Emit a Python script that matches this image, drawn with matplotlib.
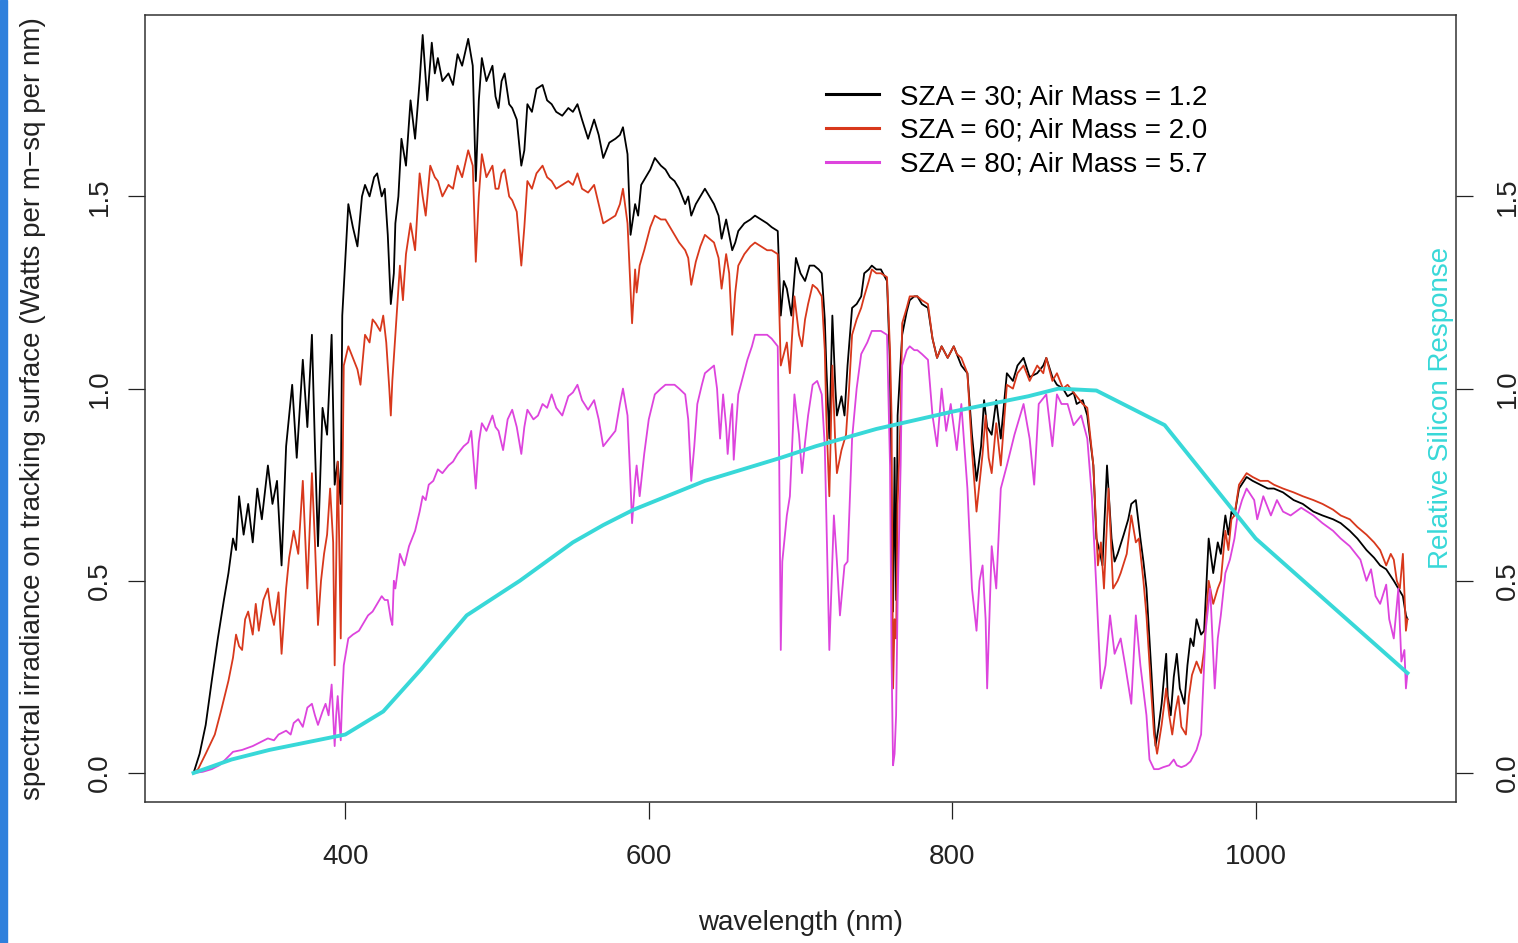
import numpy as np
import matplotlib
matplotlib.use("Agg")
import matplotlib.pyplot as plt
from matplotlib.patches import Rectangle
from matplotlib.ticker import FormatStrFormatter

plt.rcParams['font.family'] = ['Liberation Sans', 'DejaVu Sans']

# --- spectra (nm, W per m^2 per nm) ---
wl_sza30 = [300, 304, 308, 312, 316, 320, 323, 326, 328, 330, 333, 336, 339, 342, 345, 349, 352, 355, 358,
            361, 365, 368, 372, 375, 378, 380, 382, 385, 388, 391, 393, 395, 397, 398, 402, 405, 408, 411,
            413, 416, 419, 421, 424, 426, 428, 430, 432, 433, 435, 437, 440, 443, 446, 449, 451, 454, 457,
            459, 461, 464, 468, 471, 474, 477, 481, 484, 486, 488, 490, 493, 497, 499, 501, 503, 505, 508,
            510, 513, 516, 518, 520, 523, 526, 530, 533, 536, 539, 543, 547, 550, 553, 556, 560, 564, 567,
            570, 574, 578, 581, 583, 586, 588, 591, 593, 595, 598, 601, 604, 608, 611, 614, 617, 620, 624,
            626, 628, 631, 634, 637, 640, 643, 646, 648, 651, 653, 655, 657, 659, 663, 667, 670, 674, 678,
            681, 685, 687, 689, 691, 694, 697, 700, 703, 706, 709, 712, 714, 716, 717, 719, 721, 723, 724,
            727, 729, 731, 734, 737, 740, 742, 745, 747, 750, 753, 757, 759, 760, 761, 762, 763, 764, 767,
            770, 772, 775, 777, 780, 784, 787, 790, 793, 797, 801, 803, 806, 810, 813, 816, 819, 821, 823,
            826, 829, 832, 836, 840, 843, 847, 851, 856, 860, 862, 866, 869, 873, 876, 880, 882, 886, 889,
            893, 895, 897, 899, 902, 905, 907, 909, 913, 916, 918, 921, 924, 926, 928, 931, 934, 936, 938,
            941, 942, 944, 946, 948, 950, 953, 955, 957, 959, 961, 964, 966, 969, 972, 975, 977, 980, 982,
            984, 986, 989, 994, 998, 1003, 1008, 1012, 1018, 1025, 1031, 1038, 1044, 1051, 1056, 1062,
            1067, 1073, 1078, 1082, 1086, 1091, 1094, 1097, 1099, 1100]
irr_sza30 = [0.0, 0.05, 0.125, 0.24, 0.35, 0.45, 0.52, 0.61, 0.58, 0.72, 0.62, 0.70, 0.60, 0.74, 0.66, 0.80,
             0.70, 0.76, 0.54, 0.85, 1.01, 0.82, 1.075, 0.90, 1.14, 0.85, 0.59, 0.95, 0.88, 1.14, 0.75, 0.81,
             0.70, 1.19, 1.48, 1.42, 1.37, 1.50, 1.53, 1.50, 1.55, 1.56, 1.50, 1.52, 1.40, 1.22, 1.30, 1.43,
             1.50, 1.65, 1.58, 1.75, 1.65, 1.80, 1.92, 1.75, 1.90, 1.82, 1.86, 1.80, 1.82, 1.79, 1.87, 1.84,
             1.91, 1.84, 1.54, 1.75, 1.86, 1.80, 1.84, 1.76, 1.73, 1.80, 1.82, 1.74, 1.73, 1.70, 1.58, 1.62,
             1.74, 1.72, 1.78, 1.79, 1.75, 1.74, 1.72, 1.71, 1.73, 1.72, 1.74, 1.70, 1.65, 1.70, 1.66, 1.60,
             1.64, 1.65, 1.66, 1.68, 1.61, 1.40, 1.48, 1.45, 1.53, 1.55, 1.57, 1.60, 1.58, 1.57, 1.55, 1.54,
             1.52, 1.48, 1.50, 1.45, 1.48, 1.50, 1.52, 1.50, 1.48, 1.45, 1.39, 1.44, 1.40, 1.36, 1.38, 1.41,
             1.43, 1.44, 1.45, 1.44, 1.43, 1.42, 1.41, 1.19, 1.28, 1.26, 1.19, 1.34, 1.30, 1.28, 1.32, 1.32,
             1.31, 1.30, 1.18, 1.06, 0.87, 1.19, 1.00, 0.93, 0.98, 0.93, 1.06, 1.21, 1.22, 1.24, 1.30, 1.31,
             1.32, 1.31, 1.31, 1.28, 1.06, 0.60, 0.42, 0.82, 0.45, 0.93, 1.14, 1.20, 1.23, 1.24, 1.24, 1.22,
             1.21, 1.13, 1.08, 1.11, 1.08, 1.11, 1.09, 1.06, 1.04, 0.88, 0.76, 0.85, 0.97, 0.90, 0.88, 0.97,
             0.87, 1.04, 1.02, 1.06, 1.08, 1.03, 1.04, 1.06, 1.08, 1.03, 1.01, 1.00, 0.98, 0.99, 0.96, 0.97,
             0.93, 0.80, 0.61, 0.58, 0.54, 0.80, 0.61, 0.55, 0.57, 0.62, 0.66, 0.70, 0.71, 0.61, 0.55, 0.48,
             0.28, 0.07, 0.12, 0.18, 0.31, 0.20, 0.15, 0.25, 0.31, 0.22, 0.18, 0.28, 0.35, 0.33, 0.40, 0.36,
             0.37, 0.61, 0.52, 0.60, 0.57, 0.67, 0.62, 0.68, 0.67, 0.74, 0.77, 0.76, 0.75, 0.74, 0.74, 0.73,
             0.71, 0.70, 0.68, 0.67, 0.66, 0.65, 0.63, 0.61, 0.58, 0.56, 0.54, 0.53, 0.50, 0.48, 0.46, 0.41,
             0.40]

wl_sza60 = [300, 303, 308, 314, 318, 323, 326, 328, 330, 332, 334, 336, 339, 341, 343, 346, 349, 351, 353,
            356, 358, 361, 363, 366, 369, 372, 375, 378, 380, 382, 384, 386, 388, 390, 392, 393, 394, 395,
            396, 397, 399, 402, 405, 408, 410, 413, 416, 418, 420, 423, 425, 427, 429, 430, 431, 433, 436,
            438, 440, 443, 446, 449, 451, 453, 456, 459, 461, 464, 468, 471, 474, 477, 481, 484, 486, 488,
            490, 493, 497, 499, 501, 503, 505, 508, 510, 513, 516, 518, 520, 523, 526, 530, 533, 536, 539,
            543, 547, 550, 553, 556, 560, 564, 567, 570, 574, 578, 581, 583, 586, 589, 591, 592, 594, 597,
            601, 604, 608, 611, 614, 617, 620, 624, 626, 628, 631, 634, 637, 640, 643, 646, 648, 651, 653,
            655, 657, 659, 663, 667, 670, 674, 678, 681, 685, 687, 689, 691, 693, 696, 699, 701, 703, 705,
            708, 711, 714, 716, 717, 719, 721, 723, 724, 727, 730, 732, 734, 737, 740, 742, 745, 747, 750,
            753, 757, 759, 760, 761, 762, 763, 764, 766, 767, 770, 772, 775, 777, 780, 784, 787, 790, 793,
            797, 801, 803, 806, 810, 813, 816, 820, 822, 824, 826, 829, 832, 836, 840, 843, 847, 851, 856,
            860, 862, 866, 869, 873, 876, 880, 882, 886, 889, 893, 896, 898, 900, 903, 906, 909, 911, 915,
            918, 921, 923, 926, 928, 931, 933, 935, 938, 941, 943, 945, 947, 949, 951, 954, 956, 958, 961,
            964, 966, 969, 972, 975, 977, 980, 982, 984, 986, 989, 994, 998, 1003, 1008, 1012, 1018, 1025,
            1031, 1038, 1044, 1051, 1056, 1062, 1067, 1073, 1078, 1082, 1086, 1089, 1091, 1093, 1095, 1097,
            1099, 1100]
irr_sza60 = [0.0, 0.01, 0.05, 0.10, 0.16, 0.24, 0.30, 0.36, 0.33, 0.32, 0.40, 0.42, 0.36, 0.44, 0.37, 0.45,
             0.48, 0.42, 0.385, 0.47, 0.31, 0.48, 0.56, 0.63, 0.57, 0.76, 0.48, 0.78, 0.60, 0.385, 0.50, 0.57,
             0.62, 0.74, 0.60, 0.28, 0.55, 0.81, 0.60, 0.35, 1.06, 1.11, 1.08, 1.05, 1.01, 1.14, 1.12, 1.18,
             1.17, 1.15, 1.19, 1.12, 1.00, 0.93, 1.02, 1.14, 1.32, 1.23, 1.35, 1.43, 1.36, 1.56, 1.50, 1.45,
             1.58, 1.55, 1.54, 1.50, 1.53, 1.52, 1.58, 1.55, 1.62, 1.58, 1.33, 1.50, 1.61, 1.55, 1.58, 1.52,
             1.52, 1.56, 1.57, 1.50, 1.49, 1.46, 1.32, 1.42, 1.54, 1.52, 1.56, 1.58, 1.55, 1.54, 1.52, 1.53,
             1.54, 1.53, 1.56, 1.52, 1.51, 1.53, 1.48, 1.43, 1.44, 1.45, 1.48, 1.52, 1.43, 1.17, 1.31, 1.25,
             1.32, 1.36, 1.42, 1.45, 1.44, 1.44, 1.42, 1.40, 1.38, 1.36, 1.34, 1.27, 1.33, 1.37, 1.40, 1.39,
             1.38, 1.34, 1.26, 1.35, 1.30, 1.14, 1.25, 1.32, 1.35, 1.37, 1.38, 1.37, 1.36, 1.36, 1.35, 1.06,
             1.09, 1.12, 1.04, 1.24, 1.14, 1.11, 1.18, 1.22, 1.27, 1.26, 1.24, 1.10, 0.93, 0.72, 1.06, 0.85,
             0.78, 0.84, 0.88, 1.00, 1.14, 1.18, 1.21, 1.24, 1.28, 1.31, 1.30, 1.30, 1.29, 1.10, 0.93, 0.22,
             0.40, 0.35, 0.70, 0.93, 1.17, 1.21, 1.24, 1.24, 1.24, 1.23, 1.22, 1.13, 1.08, 1.11, 1.08, 1.11,
             1.09, 1.08, 1.04, 0.84, 0.68, 0.83, 0.93, 0.82, 0.78, 0.91, 0.80, 1.01, 1.00, 1.04, 1.06, 1.02,
             1.06, 1.04, 1.08, 1.02, 1.04, 1.00, 1.01, 0.99, 0.98, 0.96, 0.95, 0.80, 0.54, 0.60, 0.48, 0.74,
             0.48, 0.50, 0.52, 0.57, 0.67, 0.60, 0.61, 0.50, 0.41, 0.22, 0.10, 0.05, 0.125, 0.22, 0.15, 0.10,
             0.16, 0.20, 0.12, 0.10, 0.20, 0.255, 0.29, 0.26, 0.32, 0.50, 0.44, 0.48, 0.50, 0.63, 0.58, 0.66,
             0.67, 0.75, 0.78, 0.77, 0.76, 0.76, 0.75, 0.74, 0.73, 0.72, 0.71, 0.70, 0.685, 0.67, 0.66, 0.64,
             0.62, 0.60, 0.58, 0.54, 0.57, 0.555, 0.50, 0.48, 0.57, 0.37, 0.40]

wl_sza80 = [300, 306, 312, 317, 321, 326, 332, 339, 344, 349, 353, 356, 361, 364, 366, 369, 372, 375, 378,
            380, 382, 385, 387, 389, 391, 393, 394, 395, 396, 397, 398, 399, 402, 405, 409, 412, 415, 418,
            421, 424, 426, 428, 430, 431, 432, 433, 436, 439, 442, 446, 449, 451, 453, 455, 458, 461, 464,
            468, 471, 474, 478, 481, 483, 486, 488, 490, 493, 497, 499, 501, 504, 507, 510, 513, 516, 518,
            520, 524, 527, 530, 533, 536, 539, 543, 547, 550, 553, 556, 560, 564, 567, 570, 574, 578, 581,
            583, 586, 588, 589, 591, 592, 594, 597, 600, 604, 608, 611, 614, 617, 620, 624, 626, 628, 630,
            632, 635, 637, 640, 643, 645, 647, 649, 651, 652, 654, 655, 656, 658, 659, 662, 665, 668, 670,
            674, 678, 681, 685, 686, 687, 688, 691, 693, 696, 699, 701, 703, 705, 708, 711, 714, 716, 717,
            719, 722, 724, 726, 729, 731, 734, 737, 740, 744, 747, 750, 753, 757, 759, 760, 761, 762, 763,
            764, 766, 767, 770, 772, 775, 777, 780, 784, 787, 790, 793, 796, 799, 803, 806, 810, 813, 816,
            818, 820, 822, 823, 826, 829, 832, 836, 841, 844, 847, 851, 854, 857, 862, 866, 869, 872, 876,
            880, 885, 889, 892, 895, 898, 901, 904, 907, 911, 914, 918, 921, 924, 928, 930, 933, 936, 939,
            943, 946, 948, 951, 954, 957, 961, 964, 967, 970, 973, 975, 977, 980, 983, 986, 988, 991, 994,
            999, 1001, 1005, 1010, 1014, 1018, 1023, 1030, 1038, 1044, 1051, 1056, 1062, 1066, 1069, 1073,
            1076, 1079, 1082, 1086, 1088, 1091, 1094, 1096, 1098, 1099, 1100]
irr_sza80 = [0.0, 0.003, 0.01, 0.02, 0.035, 0.055, 0.06, 0.07, 0.08, 0.09, 0.085, 0.10, 0.11, 0.10, 0.13,
             0.14, 0.12, 0.17, 0.18, 0.15, 0.125, 0.16, 0.18, 0.15, 0.23, 0.07, 0.15, 0.20, 0.14, 0.085, 0.20,
             0.28, 0.35, 0.36, 0.37, 0.39, 0.41, 0.42, 0.44, 0.46, 0.45, 0.45, 0.40, 0.385, 0.50, 0.48, 0.57,
             0.54, 0.59, 0.63, 0.68, 0.72, 0.71, 0.75, 0.76, 0.79, 0.78, 0.80, 0.81, 0.83, 0.85, 0.86, 0.89,
             0.74, 0.86, 0.91, 0.89, 0.93, 0.90, 0.89, 0.84, 0.92, 0.945, 0.90, 0.83, 0.90, 0.945, 0.92, 0.93,
             0.96, 0.95, 0.985, 0.95, 0.93, 0.98, 0.99, 1.01, 0.97, 0.945, 0.97, 0.92, 0.85, 0.87, 0.89, 0.96,
             1.00, 0.93, 0.75, 0.65, 0.76, 0.80, 0.72, 0.83, 0.92, 0.985, 1.00, 1.01, 1.01, 1.01, 1.00, 0.985,
             0.92, 0.76, 0.85, 0.96, 1.01, 1.04, 1.05, 1.06, 1.00, 0.87, 0.985, 0.90, 0.83, 0.93, 0.96, 0.815,
             0.93, 0.985, 1.03, 1.075, 1.11, 1.14, 1.14, 1.14, 1.13, 1.11, 0.80, 0.32, 0.55, 0.67, 0.72, 0.985,
             0.88, 0.78, 0.86, 0.93, 1.01, 1.02, 0.985, 0.85, 0.67, 0.32, 0.67, 0.55, 0.41, 0.54, 0.55, 0.87,
             1.00, 1.09, 1.12, 1.15, 1.15, 1.15, 1.14, 0.80, 0.30, 0.02, 0.05, 0.15, 0.45, 0.80, 1.06, 1.10,
             1.11, 1.10, 1.10, 1.09, 1.075, 0.93, 0.85, 1.00, 0.89, 0.96, 0.84, 0.96, 0.74, 0.48, 0.37, 0.50,
             0.54, 0.40, 0.22, 0.59, 0.48, 0.74, 0.80, 0.88, 0.92, 0.96, 0.87, 0.75, 0.96, 0.985, 0.85, 0.985,
             0.96, 0.96, 0.905, 0.93, 0.87, 0.72, 0.48, 0.22, 0.28, 0.41, 0.31, 0.35, 0.28, 0.18, 0.41, 0.28,
             0.15, 0.035, 0.01, 0.01, 0.015, 0.02, 0.035, 0.02, 0.015, 0.02, 0.03, 0.06, 0.10, 0.37, 0.48,
             0.22, 0.35, 0.41, 0.52, 0.555, 0.61, 0.67, 0.71, 0.74, 0.71, 0.66, 0.72, 0.67, 0.71, 0.68, 0.67,
             0.69, 0.67, 0.65, 0.63, 0.61, 0.59, 0.57, 0.555, 0.50, 0.53, 0.46, 0.44, 0.49, 0.40, 0.35, 0.48,
             0.29, 0.32, 0.22, 0.26]

# relative silicon response (right axis)
wl_si = [300, 325, 350, 375, 400, 425, 450, 480, 515, 550, 570, 590, 637, 687, 710, 750, 800, 850, 870,
         895, 940, 1000, 1100]
resp_si = [0.0, 0.035, 0.06, 0.08, 0.10, 0.16, 0.27, 0.41, 0.50, 0.60, 0.645, 0.685, 0.76, 0.82, 0.85,
           0.895, 0.94, 0.98, 1.0, 0.995, 0.905, 0.61, 0.26]

labels = ["SZA = 30; Air Mass = 1.2", "SZA = 60; Air Mass = 2.0", "SZA = 80; Air Mass = 5.7"]
colors = ["#000000", "#d8381c", "#dd44dd"]
si_color = "#38d8d8"

fig = plt.figure(figsize=(15.18, 9.43), dpi=100)
# blue slide edge on the left
fig.patches.append(Rectangle((0, 0), 7 / 1518, 1, transform=fig.transFigure,
                             color="#2f80dc", zorder=0))

ax = fig.add_axes([145 / 1518, 1 - 802 / 943, 1311 / 1518, 787 / 943])
for wl, irr, lab, col in zip([wl_sza30, wl_sza60, wl_sza80],
                             [irr_sza30, irr_sza60, irr_sza80], labels, colors):
    ax.plot(wl, irr, color=col, lw=1.3, label=lab)

ax.set_xlim(268, 1132)
ax.set_ylim(-0.0755, 1.972)
ax.set_xticks([400, 600, 800, 1000])
ax.set_yticks([0.0, 0.5, 1.0, 1.5])
ax.yaxis.set_major_formatter(FormatStrFormatter('%.1f'))
ax.tick_params(axis='both', direction='out', length=12, width=0.9, labelsize=20,
               colors='#222222', labelcolor='#222222')
ax.tick_params(axis='x', pad=18)
ax.tick_params(axis='y', pad=11, labelrotation=90)
for lab in ax.get_yticklabels():
    lab.set_va('center')
for sp in ax.spines.values():
    sp.set_linewidth(1.1)
    sp.set_color('#333333')

ax.set_xlabel("wavelength (nm)", fontsize=20, color='#222222')
ax.xaxis.label.set_va('center')
ax.xaxis.set_label_coords(0.5, -0.154)
ax.set_ylabel("spectral irradiance on tracking surface (Watts per m\u2212sq per nm)",
              fontsize=20, color='#222222')
ax.yaxis.label.set_va('center')
ax.yaxis.set_label_coords(-0.0855, 0.5)

leg = ax.legend(loc='upper left', bbox_to_anchor=((826 - 145) / 1311, (802 - 84) / 787),
                frameon=False, fontsize=20, handlelength=1.9, handletextpad=0.75,
                labelspacing=0.28, borderpad=0, borderaxespad=0)
for h in leg.get_lines():
    h.set_linewidth(2.2)

ax2 = ax.twinx()
ax2.plot(wl_si, resp_si, color=si_color, lw=2.8)
ax2.set_ylim(ax.get_ylim())
ax2.set_yticks([0.0, 0.5, 1.0, 1.5])
ax2.yaxis.set_major_formatter(FormatStrFormatter('%.1f'))
ax2.tick_params(axis='y', direction='out', length=12, width=0.9, labelsize=20, pad=16,
                labelrotation=90, colors='#222222', labelcolor='#222222')
for lab in ax2.get_yticklabels():
    lab.set_va('center')
for sp in ax2.spines.values():
    sp.set_visible(False)
ax2.text(0.9886, 0.5006, "Relative Silicon Response", transform=ax2.transAxes,
         rotation=90, ha='center', va='center', fontsize=20, color=si_color)

fig.savefig("out.png", dpi=100)
